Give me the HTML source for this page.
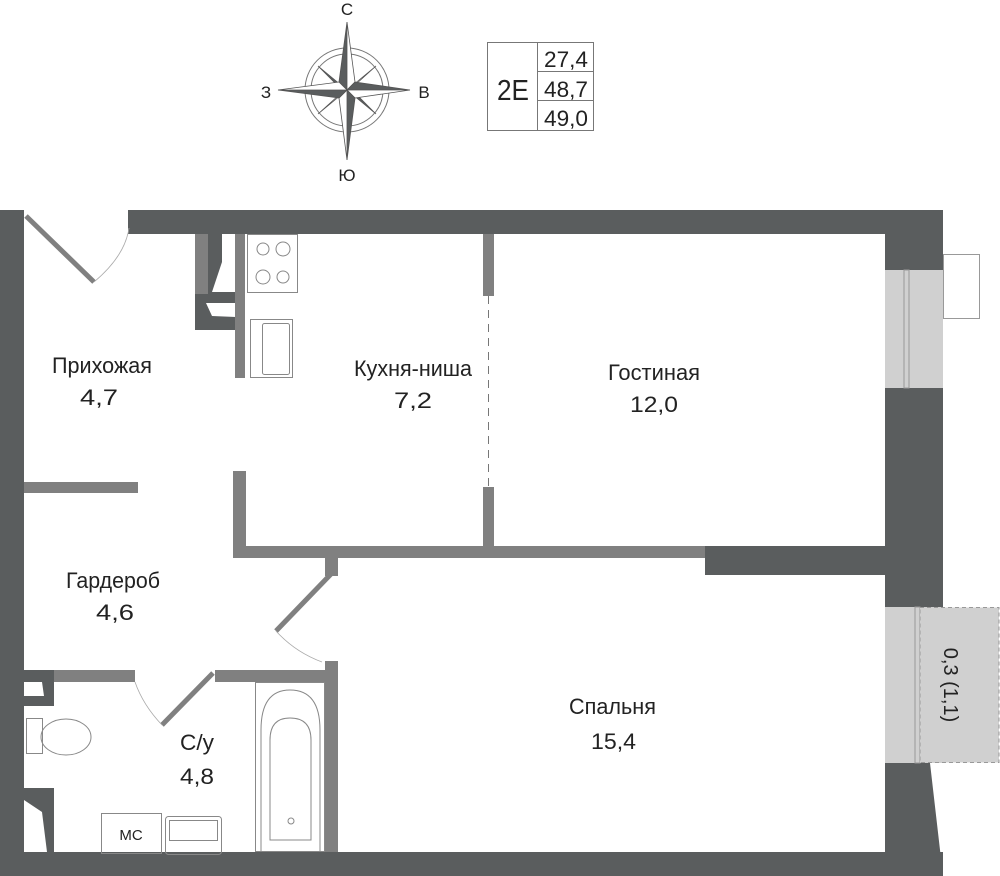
<!DOCTYPE html>
<html><head><meta charset="utf-8"><style>
html,body{margin:0;padding:0;background:#fff;}
svg{display:block;}
text{font-family:"Liberation Sans",sans-serif;fill:#222;}
</style></head><body>
<svg width="1000" height="876" viewBox="0 0 1000 876" xmlns="http://www.w3.org/2000/svg">
<!-- compass -->
<g stroke="#777" fill="none" stroke-width="1">
<circle cx="347" cy="90" r="42"/><circle cx="347" cy="90" r="36"/>
</g>
<g stroke="#555" stroke-width="0.8">
<polygon points="347,90 318,66 336,84" fill="#5a5d5e"/>
<polygon points="347,90 376,66 356,84" fill="#fff"/>
<polygon points="347,90 376,114 358,96" fill="#5a5d5e"/>
<polygon points="347,90 318,114 338,96" fill="#fff"/>
<polygon points="347,22 339,82 347,90" fill="#5a5d5e"/>
<polygon points="347,22 355,82 347,90" fill="#fff"/>
<polygon points="410,90 355,82 347,90" fill="#5a5d5e"/>
<polygon points="410,90 355,98 347,90" fill="#fff"/>
<polygon points="347,160 355,98 347,90" fill="#5a5d5e"/>
<polygon points="347,160 339,98 347,90" fill="#fff"/>
<polygon points="278,90 339,98 347,90" fill="#5a5d5e"/>
<polygon points="278,90 339,82 347,90" fill="#fff"/>
</g>
<g fill="#444">
<text x="347" y="15" font-size="17" text-anchor="middle">С</text>
<text x="347" y="181" font-size="17" text-anchor="middle">Ю</text>
<text x="266" y="98" font-size="17" text-anchor="middle">З</text>
<text x="424" y="98" font-size="17" text-anchor="middle">В</text>
</g>
<!-- info box -->
<g stroke="#777" fill="none" stroke-width="1">
<rect x="487.5" y="42.5" width="106" height="88"/>
<line x1="537.5" y1="42" x2="537.5" y2="131"/>
<line x1="537" y1="71.5" x2="594" y2="71.5"/>
<line x1="537" y1="100.5" x2="594" y2="100.5"/>
</g>
<text x="497" y="100" font-size="29" textLength="32" lengthAdjust="spacingAndGlyphs">2E</text>
<text x="544" y="67" font-size="22" textLength="44" lengthAdjust="spacingAndGlyphs">27,4</text>
<text x="544" y="97" font-size="22" textLength="44" lengthAdjust="spacingAndGlyphs">48,7</text>
<text x="544" y="126" font-size="22" textLength="44" lengthAdjust="spacingAndGlyphs">49,0</text>

<!-- outer walls -->
<g fill="#5a5d5e">
<rect x="0" y="210" width="24" height="666"/>
<rect x="128" y="210" width="815" height="24"/>
<polygon points="885,210 943,210 943,763 930,763 943,876 885,876"/>
<rect x="0" y="852" width="943" height="24"/>
<rect x="705" y="546" width="180" height="29"/>
<polygon points="195,234 242,234 242,330 195,330"/>
</g>
<polygon points="208,234 222,234 222,262 212,292 242,292 242,234" fill="#fff"/>
<rect x="195" y="234" width="13" height="60" fill="#808080"/>
<polygon points="206,303 236,303 236,317 212,316" fill="#fff"/>
<!-- windows -->
<rect x="885" y="270" width="58" height="118" fill="#d0d0d0"/>
<rect x="904" y="270" width="5" height="118" fill="none" stroke="#999"/>
<rect x="943.5" y="254.5" width="36" height="64" fill="#fff" stroke="#999"/>
<rect x="885" y="607" width="58" height="156" fill="#d0d0d0"/>
<rect x="915" y="607" width="5" height="156" fill="none" stroke="#999"/>
<rect x="920" y="607.5" width="79" height="155" fill="#d0d0d0" stroke="#999" stroke-dasharray="4,3"/>
<text transform="translate(944,685) rotate(90)" font-size="20" text-anchor="middle">0,3 (1,1)</text>

<!-- interior walls -->
<g fill="#808080">
<rect x="235" y="234" width="10" height="144"/>
<rect x="233" y="471" width="13" height="87"/>
<rect x="233" y="546" width="472" height="12"/>
<rect x="483" y="234" width="11" height="62"/>
<rect x="483" y="487" width="11" height="60"/>
<rect x="325" y="558" width="13" height="18"/>
<rect x="24" y="482" width="114" height="11"/>
<rect x="24" y="670" width="111" height="12"/>
<rect x="215" y="670" width="115" height="12"/>
<rect x="325" y="661" width="13" height="191"/>
</g>
<rect x="24" y="670" width="30" height="36" fill="#5a5d5e"/>
<polygon points="24,682 42,682 44,696 24,696" fill="#fff"/>
<rect x="24" y="788" width="30" height="64" fill="#5a5d5e"/>
<polygon points="24,800 42,812 47,852 24,852" fill="#fff"/>

<line x1="488.5" y1="296" x2="488.5" y2="487" stroke="#777" stroke-dasharray="8,6"/>
<!-- doors -->
<g stroke="#808080" stroke-width="5">
<line x1="26" y1="216" x2="94" y2="282"/>
<line x1="331" y1="574" x2="276" y2="631"/>
<line x1="213" y1="673" x2="162" y2="725"/>
</g>
<g stroke="#aaa" fill="none" stroke-width="0.8">
<path d="M94,282 Q125,256 129,228"/>
<path d="M276,631 Q295,652 322,662"/>
<path d="M162,725 Q143,705 135,682"/>
</g>
<g stroke="#888" fill="none" stroke-width="1">
<rect x="247.5" y="234.5" width="50" height="58"/>
<circle cx="263" cy="249" r="6"/><circle cx="283" cy="249" r="7"/>
<circle cx="263" cy="277" r="7"/><circle cx="283" cy="277" r="6"/>
<rect x="250.5" y="319.5" width="42" height="58"/>
<rect x="262.5" y="323.5" width="27" height="51" rx="2"/>
<rect x="26.5" y="718.5" width="16" height="35"/>
<ellipse cx="66" cy="737" rx="25" ry="18"/>
<rect x="255.5" y="682.5" width="69" height="169"/>
<path d="M261,851 V730 Q261,690 290,690 Q320,690 320,730 V851"/>
<path d="M270,840 V740 Q270,718 290,718 Q311,718 311,740 V840 Z"/>
<circle cx="291" cy="821" r="3"/>
<rect x="101.5" y="813.5" width="60" height="40"/>
<rect x="165.5" y="816.5" width="56" height="38" rx="3"/>
<rect x="169.5" y="820.5" width="48" height="20"/>
</g>
<text x="131" y="840" font-size="15" text-anchor="middle" fill="#555">МС</text>

<!-- labels -->
<g font-size="22" lengthAdjust="spacingAndGlyphs">
<text x="52" y="373" textLength="100" lengthAdjust="spacingAndGlyphs">Прихожая</text>
<text x="80" y="405" textLength="38" lengthAdjust="spacingAndGlyphs">4,7</text>
<text x="354" y="376" textLength="118" lengthAdjust="spacingAndGlyphs">Кухня-ниша</text>
<text x="394" y="408" textLength="38" lengthAdjust="spacingAndGlyphs">7,2</text>
<text x="608" y="380" textLength="92" lengthAdjust="spacingAndGlyphs">Гостиная</text>
<text x="630" y="412" textLength="48" lengthAdjust="spacingAndGlyphs">12,0</text>
<text x="66" y="588" textLength="94" lengthAdjust="spacingAndGlyphs">Гардероб</text>
<text x="96" y="620" textLength="38" lengthAdjust="spacingAndGlyphs">4,6</text>
<text x="180" y="750" textLength="34" lengthAdjust="spacingAndGlyphs">С/у</text>
<text x="180" y="784" textLength="34" lengthAdjust="spacingAndGlyphs">4,8</text>
<text x="569" y="714" textLength="87" lengthAdjust="spacingAndGlyphs">Спальня</text>
<text x="591" y="749" textLength="45" lengthAdjust="spacingAndGlyphs">15,4</text>
</g>
</svg>
</body></html>
